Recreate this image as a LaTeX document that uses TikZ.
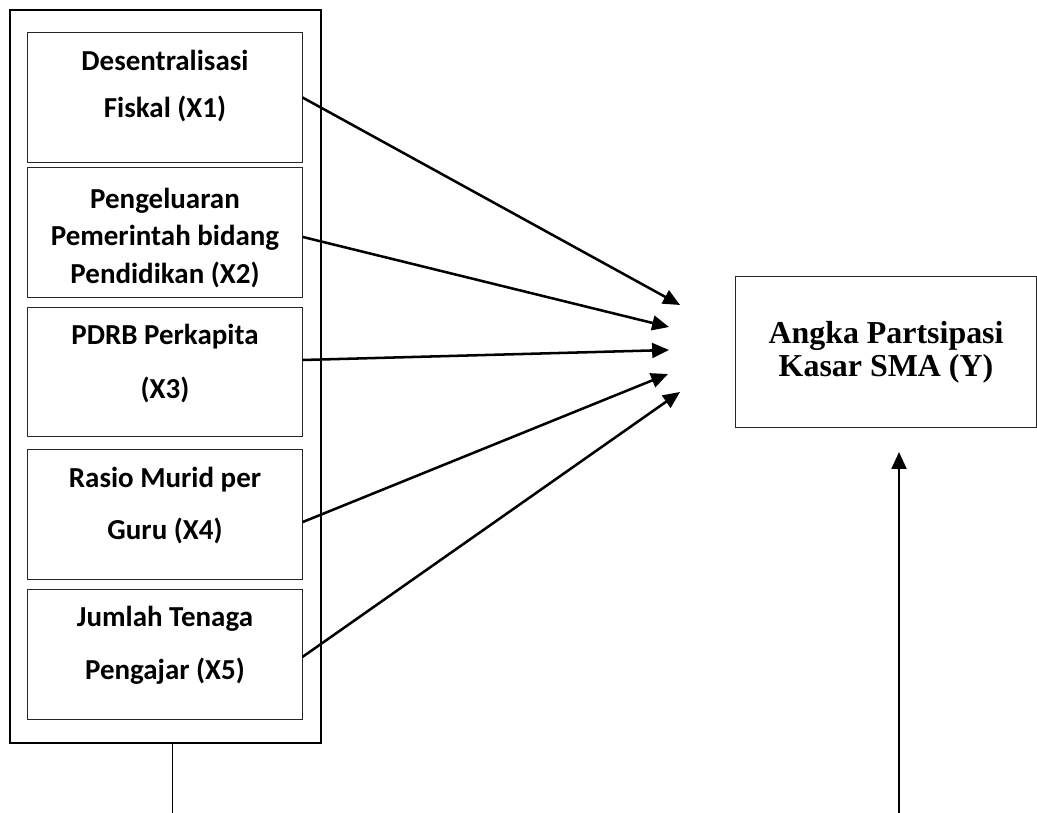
\documentclass[tikz,border=0pt]{standalone}
\usepackage{fontspec}
\setmainfont{Carlito}
\newfontfamily\ytimes{Liberation Serif}
\usetikzlibrary{arrows.meta,positioning}

\tikzset{
  varbox/.style={draw=black!85, line width=0.7pt, minimum width=6.85cm, minimum height=3.225cm, inner sep=0pt},
  vartext/.style={align=center, font=\bfseries\fontsize{20.6}{#1}\selectfont},
  arrowline/.style={line width=1.8pt, -{Triangle[length=12pt,width=10.5pt]}}
}

\begin{document}
\begin{tikzpicture}[x=0.025cm, y=-0.025cm]
    \useasboundingbox (0,0) rectangle (1037,813);

    % kotak luar variabel X
    \draw[line width=1.5pt] (10,10) rectangle (321,743);

    \node[varbox] (x1) at (165,97.5) {};
    \node[varbox] (x2) at (165,232.5) {};
    \node[varbox] (x3) at (165,372) {};
    \node[varbox] (x4) at (165,514.5) {};
    \node[varbox] (x5) at (165,654.5) {};

    \node[vartext=33pt] at (165,86) {Desentralisasi\\Fiskal (X1)};
    \node[vartext=26.6pt] at (165,238) {Pengeluaran\\Pemerintah bidang\\Pendidikan (X2)};
    \node[vartext=39pt] at (165,363.5) {PDRB Perkapita\\(X3)};
    \node[vartext=37.6pt] at (165,505.5) {Rasio Murid per\\Guru (X4)};
    \node[vartext=37.6pt] at (165,645.5) {Jumlah Tenaga\\Pengajar (X5)};

    % variabel Y
    \node[draw=black!85, line width=0.7pt, minimum width=7.5cm, minimum height=3.75cm, align=center,
          font=\ytimes\bfseries\fontsize{22.7}{23.5}\selectfont] (y) at (886,352)
          {Angka Partsipasi\\Kasar SMA (Y)};

    \coordinate (t1) at (680,305);
    \coordinate (t2) at (669,327);
    \coordinate (t3) at (669,350);
    \coordinate (t4) at (668,374);
    \coordinate (t5) at (680,392);

    \draw[arrowline] (x1.east) -- (t1);
    \draw[arrowline] ([yshift=-0.11cm]x2.east) -- (t2);
    \draw[arrowline] ([yshift=0.3cm]x3.east) -- (t3);
    \draw[arrowline] ([yshift=-0.19cm]x4.east) -- (t4);
    \draw[arrowline] ([yshift=-0.06cm]x5.east) -- (t5);

    % garis bawah
    \coordinate (lb) at (172,743);
    \coordinate (le) at (172,813);
    \coordinate (ub) at (899,813);
    \coordinate (ue) at (899,452);
    \draw[line width=0.7pt] (lb) -- (le);
    \draw[arrowline] (ub) -- (ue);
  \end{tikzpicture}
\end{document}
